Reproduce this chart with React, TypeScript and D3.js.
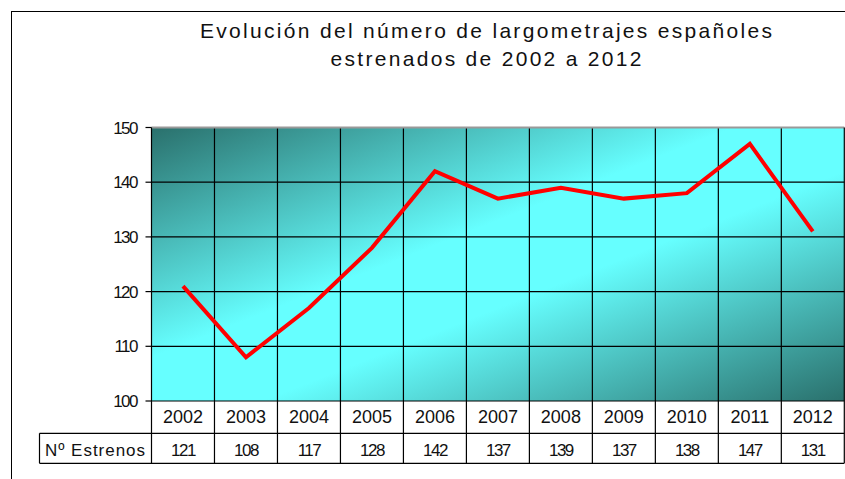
import React from "react";
import * as d3 from "d3";

const years = ["2002","2003","2004","2005","2006","2007","2008","2009","2010","2011","2012"];
const estrenos = [121,108,117,128,142,137,139,137,138,147,131];
const yTicks = [100,110,120,130,140,150];
const titleLines = ["Evolución del número de largometrajes españoles", "estrenados de 2002 a 2012"];
const seriesLabel = "Nº Estrenos";

export default function App() {
  const W = 845, H = 479;
  const left = 151.5, right = 844.3, top = 127.5, bottom = 401;
  const x = d3.scaleBand<string>().domain(years).range([left, right]).padding(0);
  const y = d3.scaleLinear().domain([100, 150]).range([bottom, top]);
  const line = d3.line<number>()
    .x((_, i) => (x(years[i]) as number) + x.bandwidth() / 2)
    .y((d) => y(d));
  const row1 = 433.3, row2 = 463.3, labelLeft = 39.5;
  const font = "'Liberation Sans', Arial, sans-serif";
  return (
    <svg width={W} height={H} style={{ position: "absolute", left: 0, top: 0 }}>
      <defs>
        <linearGradient id="bg" x1="0" y1="0" x2="1" y2="1">
          <stop offset="0" stopColor="#2a706c" />
          <stop offset="0.42" stopColor="#66ffff" />
          <stop offset="0.58" stopColor="#66ffff" />
          <stop offset="1" stopColor="#2a706c" />
        </linearGradient>
      </defs>
      <rect x={0} y={0} width={W} height={H} fill="#fff" />
      <rect x={11.5} y={11.5} width={W + 10} height={H + 10} fill="none" stroke="#000" strokeWidth={1} />
      <text x={486} y={38} textAnchor="middle" fontFamily={font} fontSize={21} fill="#111" textLength={572} lengthAdjust="spacing">{titleLines[0]}</text>
      <text x={486} y={66} textAnchor="middle" fontFamily={font} fontSize={21} fill="#111" textLength={311} lengthAdjust="spacing">{titleLines[1]}</text>
      <rect x={left} y={top} width={right - left} height={bottom - top} fill="url(#bg)" />
      {yTicks.slice(1, -1).map((t) => (
        <line key={"h" + t} x1={left} x2={right} y1={y(t)} y2={y(t)} stroke="#000" strokeWidth={1.2} />
      ))}
      {years.slice(1).map((yr) => (
        <line key={"v" + yr} x1={x(yr) as number} x2={x(yr) as number} y1={top} y2={row2} stroke="#000" strokeWidth={1.2} />
      ))}
      <line x1={left} x2={right} y1={top} y2={top} stroke="#999" strokeWidth={2} />
      <line x1={left} x2={left} y1={top} y2={row2} stroke="#000" strokeWidth={1.2} />
      <line x1={right} x2={right} y1={top} y2={row2} stroke="#000" strokeWidth={1.2} />
      {yTicks.map((t) => (
        <g key={"t" + t}>
          <line x1={left - 6} x2={left} y1={y(t)} y2={y(t)} stroke="#000" strokeWidth={1.2} />
          <text x={137} y={y(t) + 6} textAnchor="end" fontFamily={font} fontSize={17} letterSpacing={-1.5} fill="#111">{t}</text>
        </g>
      ))}
      <path d={line(estrenos) || ""} fill="none" stroke="#ff0000" strokeWidth={4} strokeLinejoin="miter" />
      <line x1={left} x2={right} y1={bottom} y2={bottom} stroke="#000" strokeWidth={1.2} />
      <line x1={labelLeft} x2={right} y1={row1} y2={row1} stroke="#000" strokeWidth={1.2} />
      <line x1={labelLeft} x2={right} y1={row2} y2={row2} stroke="#000" strokeWidth={1.2} />
      <line x1={labelLeft} x2={labelLeft} y1={row1} y2={row2} stroke="#000" strokeWidth={1.2} />
      {years.map((yr, i) => (
        <g key={"c" + yr}>
          <text x={(x(yr) as number) + x.bandwidth() / 2} y={422.5} textAnchor="middle" fontFamily={font} fontSize={18} fill="#111">{yr}</text>
          <text x={(x(yr) as number) + x.bandwidth() / 2} y={456} textAnchor="middle" fontFamily={font} fontSize={17} letterSpacing={-1.5} fill="#111">{estrenos[i]}</text>
        </g>
      ))}
      <text x={45} y={456} fontFamily={font} fontSize={17} fill="#111" textLength={100} lengthAdjust="spacing">{seriesLabel}</text>
    </svg>
  );
}
